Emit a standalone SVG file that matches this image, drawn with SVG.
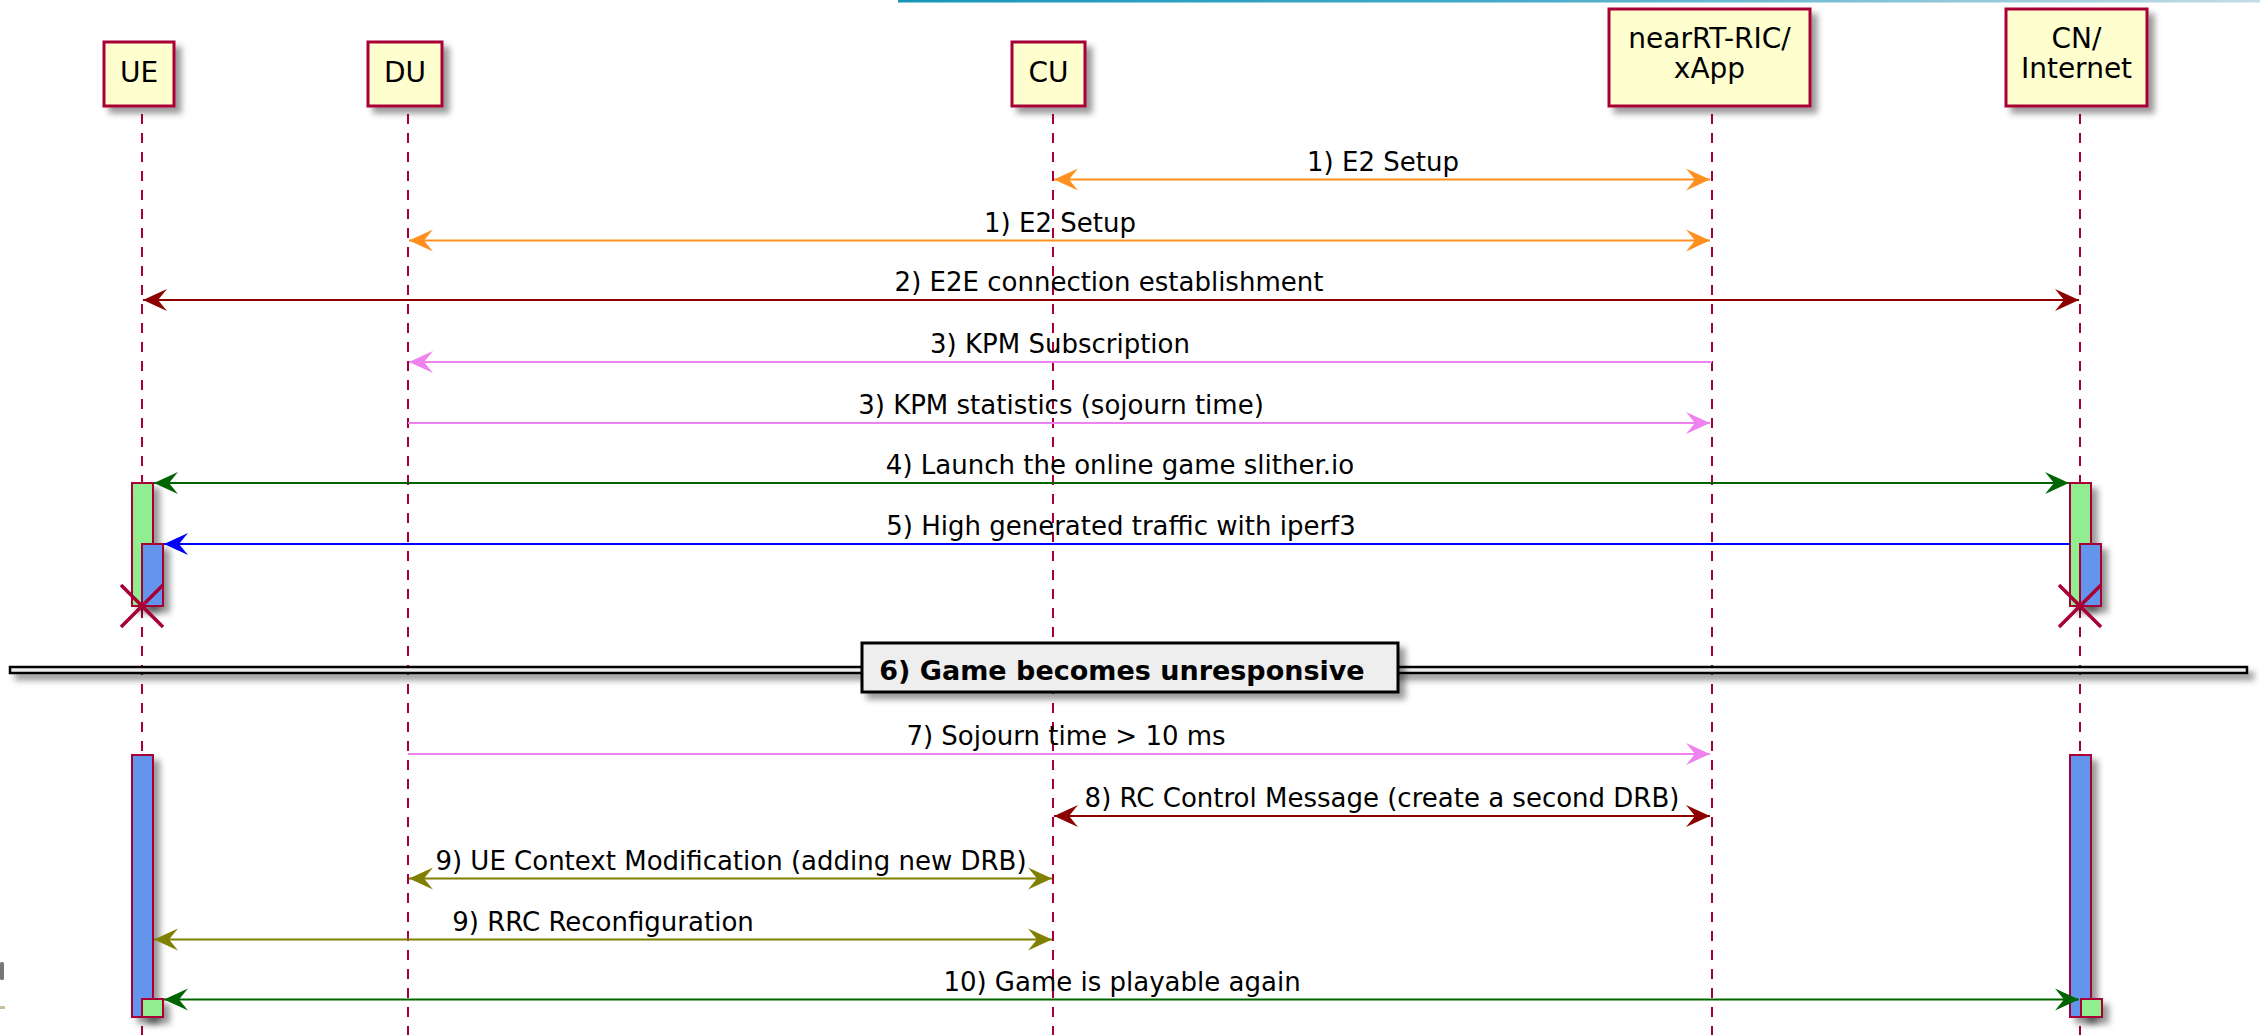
<svg xmlns="http://www.w3.org/2000/svg" width="2260" height="1035" viewBox="0 0 2260 1035">
<defs>
<style>
.box{fill:#FEFECE;stroke:#A80036;stroke-width:3}
.ptxt{font-family:"DejaVu Sans","Liberation Sans",sans-serif;font-size:28px;fill:#000;text-anchor:middle}
.life{stroke:#A80036;stroke-width:2;stroke-dasharray:10 9;fill:none}
.mtxt{font-family:"DejaVu Sans","Liberation Sans",sans-serif;font-size:26px;fill:#000;text-anchor:middle}
.act{stroke:#A80036;stroke-width:2}
.green{fill:#90EE90}
.blue{fill:#6495ED}
.m{fill:none;stroke-width:2.2}
.orange{stroke:#FF9020}
.dred{stroke:#8B0000}
.violet{stroke:#EE82EE}
.dgreen{stroke:#006400}
.mblue{stroke:#0000FF}
.olive{stroke:#808000}
.cross{stroke:#A80036;stroke-width:3.5;fill:none}
</style>
<linearGradient id="topbar" x1="0" y1="0" x2="1" y2="0">
<stop offset="0" stop-color="#1796ba"/>
<stop offset="0.45" stop-color="#45aac9"/>
<stop offset="1" stop-color="#c4dce5"/>
</linearGradient>
<filter id="sh" filterUnits="userSpaceOnUse" x="0" y="0" width="2260" height="1035">
<feGaussianBlur in="SourceAlpha" stdDeviation="3"/>
<feOffset dx="6" dy="6" result="off"/>
<feFlood flood-color="#000" flood-opacity="0.4"/>
<feComposite in2="off" operator="in" result="shadow"/>
<feMerge><feMergeNode in="shadow"/><feMergeNode in="SourceGraphic"/></feMerge>
</filter>
<marker id="h-orange" viewBox="-26 -12 28 24" refX="0" refY="0" markerWidth="28" markerHeight="24" markerUnits="userSpaceOnUse" orient="auto-start-reverse"><path d="M0,0 L-24,-11 L-15,0 L-24,11 Z" fill="#FF9020"/></marker>
<marker id="h-dred" viewBox="-26 -12 28 24" refX="0" refY="0" markerWidth="28" markerHeight="24" markerUnits="userSpaceOnUse" orient="auto-start-reverse"><path d="M0,0 L-24,-11 L-15,0 L-24,11 Z" fill="#8B0000"/></marker>
<marker id="h-violet" viewBox="-26 -12 28 24" refX="0" refY="0" markerWidth="28" markerHeight="24" markerUnits="userSpaceOnUse" orient="auto-start-reverse"><path d="M0,0 L-24,-11 L-15,0 L-24,11 Z" fill="#EE82EE"/></marker>
<marker id="h-dgreen" viewBox="-26 -12 28 24" refX="0" refY="0" markerWidth="28" markerHeight="24" markerUnits="userSpaceOnUse" orient="auto-start-reverse"><path d="M0,0 L-24,-11 L-15,0 L-24,11 Z" fill="#006400"/></marker>
<marker id="h-blue" viewBox="-26 -12 28 24" refX="0" refY="0" markerWidth="28" markerHeight="24" markerUnits="userSpaceOnUse" orient="auto-start-reverse"><path d="M0,0 L-24,-11 L-15,0 L-24,11 Z" fill="#0000FF"/></marker>
<marker id="h-olive" viewBox="-26 -12 28 24" refX="0" refY="0" markerWidth="28" markerHeight="24" markerUnits="userSpaceOnUse" orient="auto-start-reverse"><path d="M0,0 L-24,-11 L-15,0 L-24,11 Z" fill="#808000"/></marker>
</defs>

<rect x="0" y="0" width="2260" height="1035" fill="#FFFFFF"/>
<rect x="898" y="0" width="1362" height="2.5" fill="url(#topbar)"/>
<rect x="0" y="962" width="4" height="18" rx="1.5" fill="#777777"/>
<rect x="0" y="1006" width="5" height="3" fill="#CBBE9E"/>

<g id="lifelines">
<line class="life" x1="142" y1="114" x2="142" y2="1035"/>
<line class="life" x1="408" y1="114" x2="408" y2="1035"/>
<line class="life" x1="1053" y1="114" x2="1053" y2="1035"/>
<line class="life" x1="1712" y1="114" x2="1712" y2="1035"/>
<line class="life" x1="2080" y1="114" x2="2080" y2="1035"/>
</g>

<g id="p-ue"><rect class="box" x="104" y="42" width="70" height="64" filter="url(#sh)"/><text class="ptxt" x="139" y="82">UE</text></g>
<g id="p-du"><rect class="box" x="368" y="42" width="74" height="64" filter="url(#sh)"/><text class="ptxt" x="405" y="82">DU</text></g>
<g id="p-cu"><rect class="box" x="1012" y="42" width="73" height="64" filter="url(#sh)"/><text class="ptxt" x="1048.5" y="82">CU</text></g>
<g id="p-ric"><rect class="box" x="1609" y="9" width="201" height="97" filter="url(#sh)"/><text class="ptxt" x="1709.5" y="48">nearRT-RIC/</text><text class="ptxt" x="1709.5" y="78">xApp</text></g>
<g id="p-cn"><rect class="box" x="2006" y="9" width="141" height="97" filter="url(#sh)"/><text class="ptxt" x="2076.5" y="48">CN/</text><text class="ptxt" x="2076.5" y="78">Internet</text></g>

<g id="activations">
<rect class="act green" x="132" y="483" width="21" height="123" filter="url(#sh)"/>
<rect class="act blue" x="142" y="544" width="21" height="62" filter="url(#sh)"/>
<rect class="act green" x="2070" y="483" width="21" height="123" filter="url(#sh)"/>
<rect class="act blue" x="2080" y="544" width="21" height="62" filter="url(#sh)"/>
<rect class="act blue" x="132" y="755" width="21" height="262" filter="url(#sh)"/>
<rect class="act green" x="142" y="999" width="21" height="18" filter="url(#sh)"/>
<rect class="act blue" x="2070" y="755" width="21" height="262" filter="url(#sh)"/>
<rect class="act green" x="2081" y="999" width="21" height="18" filter="url(#sh)"/>
</g>

<g id="destroy">
<path class="cross" d="M121,585 L163,627 M163,585 L121,627"/>
<path class="cross" d="M2059,585 L2101,627 M2101,585 L2059,627"/>
</g>

<g id="divider">
<rect x="10" y="667" width="2237" height="6" fill="#EEEEEE" stroke="#000000" stroke-width="2.5" filter="url(#sh)"/>
<rect x="862" y="643" width="536" height="49" fill="#EEEEEE" stroke="#000000" stroke-width="3" filter="url(#sh)"/>
<text x="1122" y="680" font-family="DejaVu Sans, Liberation Sans, sans-serif" font-size="27" font-weight="bold" text-anchor="middle" fill="#000">6) Game becomes unresponsive</text>
</g>

<g id="connectors">
<g id="msg1a"><path class="m orange" d="M1054,179.5 L1710,179.5" marker-start="url(#h-orange)" marker-end="url(#h-orange)"/><text class="mtxt" x="1383" y="171">1) E2 Setup</text></g>
<g id="msg1b"><path class="m orange" d="M409,240.5 L1710,240.5" marker-start="url(#h-orange)" marker-end="url(#h-orange)"/><text class="mtxt" x="1060" y="232">1) E2 Setup</text></g>
<g id="msg2"><path class="m dred" d="M143,300 L2079,300" marker-start="url(#h-dred)" marker-end="url(#h-dred)"/><text class="mtxt" x="1109" y="291">2) E2E connection establishment</text></g>
<g id="msg3a"><path class="m violet" d="M1712,362 L409,362" marker-end="url(#h-violet)"/><text class="mtxt" x="1060" y="353">3) KPM Subscription</text></g>
<g id="msg3b"><path class="m violet" d="M408,423 L1710,423" marker-end="url(#h-violet)"/><text class="mtxt" x="1061" y="414">3) KPM statistics (sojourn time)</text></g>
<g id="msg4"><path class="m dgreen" d="M154,483 L2069,483" marker-start="url(#h-dgreen)" marker-end="url(#h-dgreen)"/><text class="mtxt" x="1120" y="474">4) Launch the online game slither.io</text></g>
<g id="msg5"><path class="m mblue" d="M2070,544 L164,544" marker-end="url(#h-blue)"/><text class="mtxt" x="1121" y="535">5) High generated traffic with iperf3</text></g>
<g id="msg7"><path class="m violet" d="M408,754 L1710,754" marker-end="url(#h-violet)"/><text class="mtxt" x="1066" y="745">7) Sojourn time &gt; 10 ms</text></g>
<g id="msg8"><path class="m dred" d="M1054,816 L1710,816" marker-start="url(#h-dred)" marker-end="url(#h-dred)"/><text class="mtxt" x="1382" y="807">8) RC Control Message (create a second DRB)</text></g>
<g id="msg9a"><path class="m olive" d="M409,878.5 L1052,878.5" marker-start="url(#h-olive)" marker-end="url(#h-olive)"/><text class="mtxt" x="731" y="869.5">9) UE Context Modification (adding new DRB)</text></g>
<g id="msg9b"><path class="m olive" d="M154,939.5 L1052,939.5" marker-start="url(#h-olive)" marker-end="url(#h-olive)"/><text class="mtxt" x="603" y="930.5">9) RRC Reconfiguration</text></g>
<g id="msg10"><path class="m dgreen" d="M164,999.5 L2079,999.5" marker-start="url(#h-dgreen)" marker-end="url(#h-dgreen)"/><text class="mtxt" x="1122" y="990.5">10) Game is playable again</text></g>
</g>
</svg>
